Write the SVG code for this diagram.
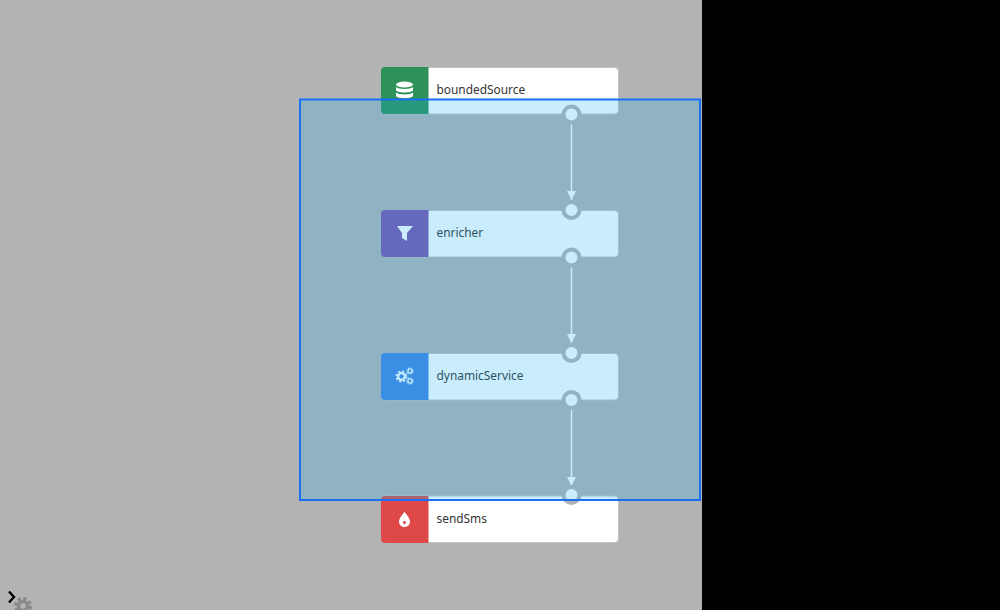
<svg xmlns="http://www.w3.org/2000/svg" width="1000" height="610" viewBox="0 0 1000 610">
<style>
.card{fill:#fff;stroke:#c4c4c4;stroke-width:1}
.lbl{font-family:"Noto Sans","Open Sans",sans-serif;font-size:11.9px;fill:#333}
.port{fill:#fff;stroke:#b3b3b3;stroke-width:4}
.edge{stroke:#fff;stroke-width:1.500;fill:none;marker-end:url(#ah)}
.ico{fill:#fff}
.gr{fill:none;stroke:#fff}
</style>
<defs>
<marker id="ah" markerUnits="userSpaceOnUse" markerWidth="10" markerHeight="10" refX="9" refY="5" orient="auto"><path d="M0 .5L9 5L0 9.500z" fill="#fff"/></marker>
</defs>
<rect width="702" height="610" fill="#b3b3b3"/>
<rect x="702" width="298" height="610" fill="#000"/>
<g id="connectors">
<line class="edge" x1="571.500" y1="124" x2="571.500" y2="200"/>
<line class="edge" x1="571.500" y1="267" x2="571.500" y2="343"/>
<line class="edge" x1="571.500" y1="410" x2="571.500" y2="486"/>
</g>
<g id="boundedSource">
<rect class="card" x="381.500" y="67.500" width="237" height="46.500" rx="4"/>
<path d="M385 67h43.500v47H385a4 4 0 0 1-4-4V71a4 4 0 0 1 4-4z" fill="#2d9158"/>
<ellipse class="ico" cx="404.500" cy="84.500" rx="8.500" ry="3"/>
<path class="ico" d="M396 87c2 2.500 15 2.500 17 0v3.500c-2 2.500-15 2.500-17 0zM396 92.500c2 2.500 15 2.500 17 0v3.500c-2 3-15 3-17 0z"/>
<text class="lbl" x="436.500" y="94">boundedSource</text>
<circle class="port" cx="571.500" cy="114.500" r="8"/>
</g>
<g id="enricher">
<rect class="card" x="381.500" y="210.500" width="237" height="46.500" rx="4"/>
<path d="M385 210h43.500v47H385a4 4 0 0 1-4-4V214a4 4 0 0 1 4-4z" fill="#7d51ac"/>
<path class="ico" d="M397 226h16l-6 7v8l-5-3v-5z"/>
<text class="lbl" x="436.500" y="237">enricher</text>
<circle class="port" cx="571.500" cy="210" r="8"/>
<circle class="port" cx="571.500" cy="257.500" r="8"/>
</g>
<g id="dynamicService">
<rect class="card" x="381.500" y="353.500" width="237" height="46.500" rx="4"/>
<path d="M385 353h43.500v47H385a4 4 0 0 1-4-4V357a4 4 0 0 1 4-4z" fill="#4382de"/>
<circle class="gr" cx="401.500" cy="376.500" r="3.300" stroke-width="2.200"/>
<circle class="gr" cx="401.500" cy="376.500" r="5" stroke-width="2" stroke-dasharray="2.200 1.730"/>
<circle class="gr" cx="410" cy="371" r="2" stroke-width="1.200"/>
<circle class="gr" cx="410" cy="371" r="3" stroke-width="1.200" stroke-dasharray="1.300 1.050"/>
<circle class="gr" cx="410" cy="381" r="2" stroke-width="1.200"/>
<circle class="gr" cx="410" cy="381" r="3" stroke-width="1.200" stroke-dasharray="1.300 1.050"/>
<text class="lbl" x="436.500" y="380">dynamicService</text>
<circle class="port" cx="571.500" cy="353" r="8"/>
<circle class="port" cx="571.500" cy="400" r="8"/>
</g>
<g id="sendSms">
<rect class="card" x="381.500" y="496" width="237" height="46.500" rx="4"/>
<path d="M385 496h43.500v47H385a4 4 0 0 1-4-4V500a4 4 0 0 1 4-4z" fill="#de4848"/>
<path class="ico" d="M404.500 511.500c1.500 3 5.500 6.500 5.500 10a5.500 5.500 0 0 1-11 0c0-3.500 4-7 5.500-10z"/>
<circle cx="404.500" cy="522.500" r="1.500" fill="#de4848"/>
<text class="lbl" x="436.500" y="523">sendSms</text>
<circle class="port" cx="571.500" cy="495" r="8"/>
</g>
<rect id="selection" x="300" y="99.500" width="400" height="400.500" fill="#1db3f1" fill-opacity=".24" stroke="#1a6ff5" stroke-width="2"/>
<path id="toggle" d="M9 591.500l5 5.500-5 5.500" fill="none" stroke="#000" stroke-width="2.400"/>
<g id="tool">
<circle cx="23" cy="606" r="4.500" fill="none" stroke="#8a8a8a" stroke-width="3.500"/>
<circle cx="23" cy="606" r="7.500" fill="none" stroke="#8a8a8a" stroke-width="3" stroke-dasharray="3.500 2.400"/>
</g>
</svg>
